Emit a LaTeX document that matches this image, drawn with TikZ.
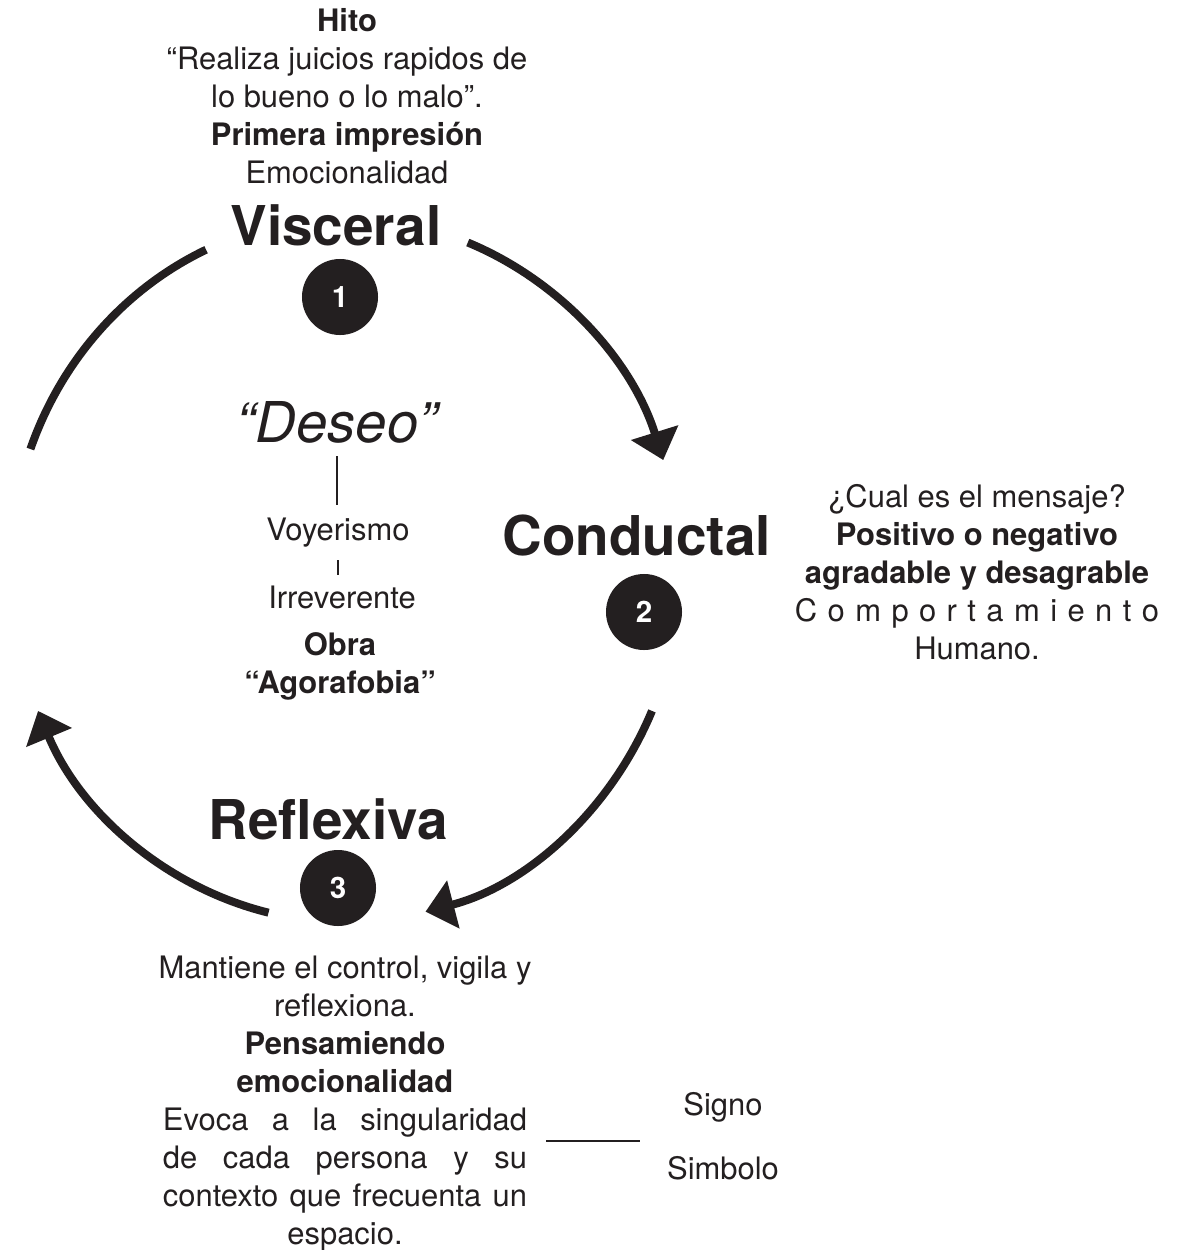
\documentclass[tikz,border=0pt]{standalone}
\usepackage{fontspec}
\setmainfont{TeX Gyre Heros}
\usetikzlibrary{arrows.meta,positioning}
\definecolor{ink}{RGB}{35,31,32}
\tikzset{
  body/.style={font=\fontsize{22}{27}\selectfont, align=center, inner sep=0pt, text=ink},
  title/.style={font=\fontsize{39}{46}\selectfont\bfseries, inner sep=0pt, text=ink},
  badge/.style={circle, fill=ink, text=white, minimum size=1.9cm, inner sep=0pt, font=\fontsize{21}{25}\selectfont\bfseries},
  ring/.style={draw=ink, line width=0.2cm},
  ringarrow/.style={ring, -{Triangle[length=0.72cm,width=1.2cm]}}
}
\newcommand{\spreadline}[1]{\makebox[9.1cm][s]{#1}}
\begin{document}
\begin{tikzpicture}[x=0.025cm, y=-0.025cm]
    \useasboundingbox (0,0) rectangle (1178,1250);
    \coordinate (hub) at (345,570);

    \draw[ring] ([shift={(-114.5:335 and 352)}]hub) arc[start angle=-114.5, end angle=-159.9, x radius=335, y radius=352];
    \draw[ringarrow] ([shift={(-68.5:335 and 352)}]hub) arc[start angle=-68.5, end angle=-18.2, x radius=335, y radius=352];
    \draw[ringarrow] ([shift={(23.6:335 and 352)}]hub) arc[start angle=23.6, end angle=76.1, x radius=335, y radius=352];
    \draw[ringarrow] ([shift={(103.2:335 and 352)}]hub) arc[start angle=103.2, end angle=156.4, x radius=335, y radius=352];

    \node[body, anchor=north] (hito) at (347,8) {\textbf{Hito}\\“Realiza juicios rapidos de\\lo bueno o lo malo”.\\\textbf{Primera impresión}\\Emocionalidad};
    \node[title] (visceral) at (336,225) {Visceral};
    \node[badge] (uno) at (340,297) {1};

    \node[body, font=\fontsize{40}{48}\selectfont\itshape] (deseo) at (337,422) {“Deseo”};
    \node[body, anchor=base] (voyer) at (338,540) {Voyerismo};
    \node[body, anchor=base] (irrev) at (342,608) {Irreverente};
    \node[body, font=\fontsize{22}{27}\selectfont\bfseries] (obra) at (340,666) {Obra\\“Agorafobia”};
    \draw[ink, line width=0.05cm, shorten <=0.33cm, shorten >=0.3cm] (deseo.south) -- (deseo.south |- voyer.north);
    \draw[ink, line width=0.05cm, shorten <=0.33cm, shorten >=0.25cm] (voyer.south) -- (voyer.south |- irrev.north);

    \node[title] (conductal) at (637,536) {Conductal};
    \node[badge] (dos) at (644,612) {2};
    \node[body, anchor=north] (mensaje) at (977,484) {¿Cual es el mensaje?\\\textbf{Positivo o negativo}\\\textbf{agradable y desagrable}\\\hbox to 9.1cm{C\hfill o\hfill m\hfill p\hfill o\hfill r\hfill t\hfill a\hfill m\hfill i\hfill e\hfill n\hfill t\hfill o}\\Humano.};

    \node[title] (reflexiva) at (328,819) {Reflexiva};
    \node[badge] (tres) at (338,888) {3};
    \node[body, anchor=north] (control) at (345,956) {Mantiene el control, vigila y\\reflexiona.\\\textbf{Pensamiendo}\\\textbf{emocionalidad}\\\spreadline{Evoca a la singularidad}\\\spreadline{de cada persona y su}\\\spreadline{contexto que frecuenta un}\\espacio.};

    \node[body] (signo) at (723,1107) {Signo};
    \node[body] (simbolo) at (723,1168) {Simbolo};
    \draw[ink, line width=0.07cm] (546,1141) -- (640,1141);
\end{tikzpicture}
\end{document}
